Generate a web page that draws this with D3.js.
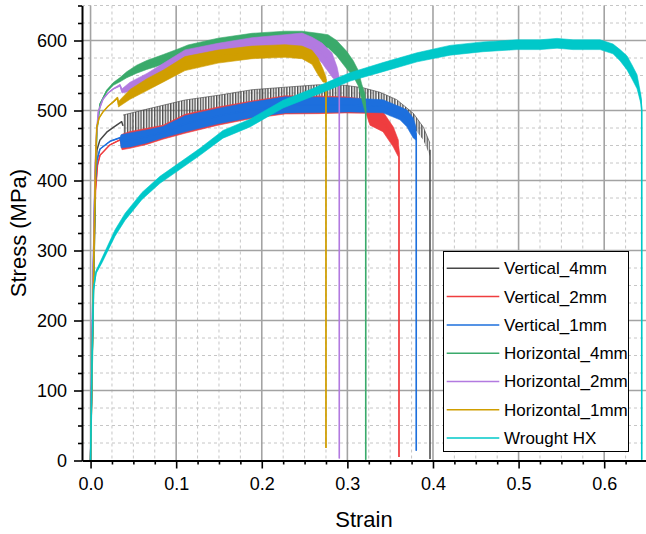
<!DOCTYPE html>
<html>
<head>
<meta charset="utf-8">
<script src="https://cdn.jsdelivr.net/npm/d3@7"></script>
<style>
  html, body { margin: 0; padding: 0; background: #fff; }
  svg { display: block; font-family: "Liberation Sans", Arial, Helvetica, sans-serif; }
</style>
</head>
<body>
<svg id="chart" width="646" height="534"></svg>
<script>
// Each point: [strain, stress (MPa), half-width of the serration band (MPa)]
const vertical4mm = [
  [0, 0, 0], [0.0029, 229, 0], [0.0052, 401, 0], [0.0075, 444, 0], [0.0110, 458, 0],
  [0.0189, 469, 0], [0.0266, 476, 0], [0.0364, 484, 0.5], [0.0379, 478, 15.5],
  [0.0659, 486, 16], [0.1103, 503, 12], [0.1489, 511, 10.7], [0.1886, 519, 10.7],
  [0.2272, 524, 9.3], [0.2657, 526, 10.7], [0.2973, 526, 10], [0.3183, 525, 7.5],
  [0.3381, 519, 7], [0.3576, 508, 7.5], [0.3770, 486, 10], [0.3887, 467, 9.3],
  [0.3965, 444, 9.3], [0.3965, 2, 0]
];
const vertical2mm = [
  [0, 0, 0], [0.0029, 229, 0], [0.0058, 386, 0], [0.0081, 422, 0], [0.0110, 436, 0],
  [0.0227, 451, 0], [0.0344, 458, 0.5], [0.0367, 455, 11], [0.0461, 458, 12],
  [0.0656, 463, 11.5], [0.0846, 469, 10], [0.1103, 481, 13.5], [0.1489, 492, 13],
  [0.1882, 501, 12.5], [0.2272, 508, 13], [0.2657, 508, 12.5], [0.2973, 508, 11.5],
  [0.3218, 506, 10], [0.3264, 489, 10], [0.3416, 484, 14.3], [0.3537, 462, 14.3],
  [0.3595, 446, 12], [0.3603, 439, 4], [0.3603, 5, 0]
];
const vertical1mm = [
  [0, 0, 0], [0.0029, 258, 0], [0.0052, 394, 0], [0.0075, 429, 0], [0.0110, 445, 0],
  [0.0227, 456, 0], [0.0344, 461, 0.5], [0.0356, 456, 9.3], [0.0461, 458, 10],
  [0.0656, 463, 9.3], [0.0846, 469, 8], [0.1103, 481, 11.5], [0.1489, 492, 11],
  [0.1882, 501, 11], [0.2272, 508, 11.5], [0.2657, 508, 11], [0.3031, 508, 10],
  [0.3416, 506, 9.3], [0.3615, 496, 9.3], [0.3693, 489, 12], [0.3770, 475, 14.3],
  [0.3802, 467, 9.3], [0.3805, 461, 2], [0.3805, 14, 0]
];
const horizontal4mm = [
  [0, 0, 0], [0.0029, 201, 0], [0.0046, 315, 0], [0.0058, 415, 0], [0.0075, 472, 0],
  [0.0110, 509, 0.7], [0.0189, 528, 1.4], [0.0266, 538, 2], [0.0344, 544, 3],
  [0.0422, 551, 4.3], [0.0539, 559, 5.7], [0.0656, 565, 6.4], [0.0850, 573, 7],
  [0.1045, 581, 8], [0.1138, 585, 8.6], [0.1489, 594, 9.3], [0.1886, 601, 9.3],
  [0.2272, 604, 9.3], [0.2470, 604, 9.3], [0.2657, 601, 9.3], [0.2774, 599, 9.3],
  [0.2875, 589, 11], [0.2992, 572, 12.5], [0.3069, 560, 11], [0.3128, 546, 11],
  [0.3167, 527, 11], [0.3206, 511, 12.5], [0.3214, 501, 4], [0.3214, 1, 0]
];
const horizontal2mm = [
  [0, 0, 0], [0.0029, 258, 0], [0.0052, 415, 0], [0.0069, 465, 0], [0.0090, 498, 0],
  [0.0145, 516, 0], [0.0204, 525, 0], [0.0266, 531, 0.5], [0.0344, 536, 1.4],
  [0.0367, 528, 3], [0.0461, 534, 6.4], [0.0659, 546, 7], [0.0846, 559, 8],
  [0.1103, 578, 8.6], [0.1489, 586, 10], [0.1886, 594, 10], [0.2272, 599, 9.3],
  [0.2470, 600, 10.7], [0.2587, 594, 10.7], [0.2704, 582, 14.3], [0.2821, 565, 17],
  [0.2879, 551, 11.4], [0.2906, 544, 3], [0.2906, 3, 0]
];
const horizontal1mm = [
  [0, 0, 0], [0.0029, 229, 0], [0.0046, 344, 0], [0.0060, 429, 0], [0.0072, 476, 0],
  [0.0099, 489, 0], [0.0145, 498, 0], [0.0204, 506, 0], [0.0262, 512, 0.5],
  [0.0315, 518, 1.4], [0.0326, 509, 4], [0.0461, 523, 7], [0.0659, 537, 8.5],
  [0.0846, 549, 8.5], [0.1103, 567, 10], [0.1489, 577, 9.3], [0.1886, 583, 9],
  [0.2272, 585, 9], [0.2470, 583, 9], [0.2587, 576, 10], [0.2657, 563, 12],
  [0.2715, 550, 9.3], [0.2750, 544, 4], [0.2750, 18, 0]
];
const wroughtHX = [
  [0, 0, 0], [0.0017, 144, 0], [0.0034, 244, 1], [0.0064, 269, 2], [0.0134, 286, 3.5],
  [0.0286, 325, 4.5], [0.0402, 348, 5], [0.0601, 378, 5], [0.0811, 401, 5],
  [0.1045, 421, 5], [0.1278, 441, 5], [0.1547, 466, 5.5], [0.1862, 482, 5.5],
  [0.2061, 496, 5.5], [0.2248, 509, 5.5], [0.2598, 526, 5.5], [0.2797, 536, 6],
  [0.3031, 548, 6], [0.3416, 562, 6.5], [0.3814, 576, 6.5], [0.4199, 586, 7],
  [0.4584, 591, 7], [0.4981, 594, 7], [0.5250, 594, 7], [0.5449, 596, 7],
  [0.5636, 594, 7], [0.5952, 594, 7], [0.6103, 588, 7], [0.6185, 579, 8],
  [0.6267, 568, 10], [0.6325, 555, 10], [0.6384, 541, 10], [0.6430, 515, 6],
  [0.6438, 501, 2], [0.6438, 1, 0]
];

const seriesNames = ["Vertical_4mm", "Vertical_2mm", "Vertical_1mm",
  "Horizontal_4mm", "Horizontal_2mm", "Horizontal_1mm", "Wrought HX"];
const seriesData = [vertical4mm, vertical2mm, vertical1mm,
  horizontal4mm, horizontal2mm, horizontal1mm, wroughtHX];
const seriesColors = ["#474747", "#ef3d3f", "#1d6fdd", "#3aaa6b", "#b27ae0", "#d09e00", "#00c8c9"];

const strainTicks = [0, 0.1, 0.2, 0.3, 0.4, 0.5, 0.6];
const stressTicks = [0, 100, 200, 300, 400, 500, 600];

const svg = d3.select("#chart");

const x = d3.scaleLinear().domain([-0.01, 0.65]).range([82, 647]);
const y = d3.scaleLinear().domain([0, 650]).range([460.5, 5.5]);

const strainMinor = d3.range(1, 27).filter(k => k % 4 !== 0).map(k => k * 0.025);
const stressMinor = d3.range(1, 27).filter(k => k % 4 !== 0).map(k => k * 25);

// sawtooth texture used for the serrated Vertical_4mm band
const defs = svg.append("defs");
defs.append("pattern")
  .attr("id", "saw")
  .attr("patternUnits", "userSpaceOnUse")
  .attr("width", 2.7).attr("height", 30)
  .append("line")
  .attr("x1", 0.7).attr("y1", 0).attr("x2", 0.7).attr("y2", 30)
  .attr("stroke", seriesColors[0]).attr("stroke-width", 1.35);

// grid
const grid = svg.append("g");
grid.selectAll(".vminor").data(strainMinor).join("line")
  .attr("x1", d => x(d)).attr("x2", d => x(d))
  .attr("y1", y(650)).attr("y2", y(0))
  .attr("stroke", "#c6c6c6").attr("stroke-width", 1).attr("stroke-dasharray", "3,3");
grid.selectAll(".hminor").data(stressMinor).join("line")
  .attr("x1", x.range()[0]).attr("x2", x.range()[1])
  .attr("y1", d => y(d)).attr("y2", d => y(d))
  .attr("stroke", "#c6c6c6").attr("stroke-width", 1).attr("stroke-dasharray", "3,3");
grid.selectAll(".vmajor").data(strainTicks).join("line")
  .attr("x1", d => x(d)).attr("x2", d => x(d))
  .attr("y1", y(650)).attr("y2", y(0))
  .attr("stroke", "#a3a3a3").attr("stroke-width", 1.6);
grid.selectAll(".hmajor").data(stressTicks.slice(1)).join("line")
  .attr("x1", x.range()[0]).attr("x2", x.range()[1])
  .attr("y1", d => y(d)).attr("y2", d => y(d))
  .attr("stroke", "#a3a3a3").attr("stroke-width", 1.6);

// curves: serration band plus the mean trace
const band = d3.area()
  .x(d => x(d[0]))
  .y0(d => y(d[1] - d[2]))
  .y1(d => y(d[1] + d[2]));
const upperEdge = d3.line().x(d => x(d[0])).y(d => y(d[1] + d[2]));
const trace = d3.line().x(d => x(d[0])).y(d => y(d[1]));

const curves = svg.append("g");
seriesData.forEach((pts, i) => {
  const g = curves.append("g");
  const sawtooth = i === 0;
  if (sawtooth) {
    const firstBand = pts.findIndex(d => d[2] >= 1.5);
    const serrated = pts.slice(firstBand, -1);
    g.append("path").attr("d", band(serrated)).attr("fill", "url(#saw)");
    g.append("path").attr("d", upperEdge(serrated))
      .attr("fill", "none").attr("stroke", seriesColors[i])
      .attr("stroke-width", 0.8).attr("stroke-opacity", 0.8);
    // thin trace only where the curve is not serrated: the loading part and the final drop
    [pts.slice(0, firstBand + 1), pts.slice(-2)].forEach(seg => {
      g.append("path").attr("d", trace(seg))
        .attr("fill", "none").attr("stroke", seriesColors[i])
        .attr("stroke-width", 1.5).attr("stroke-linejoin", "round");
    });
  } else {
    g.append("path").attr("d", band(pts))
      .attr("fill", seriesColors[i])
      .attr("stroke", seriesColors[i]).attr("stroke-width", 0.6);
    g.append("path").attr("d", trace(pts))
      .attr("fill", "none").attr("stroke", seriesColors[i])
      .attr("stroke-width", 1.5).attr("stroke-linejoin", "round");
  }
});

// axes
svg.append("g").attr("transform", `translate(0,${y(0)})`)
  .call(d3.axisBottom(x).tickValues(strainTicks).tickFormat(d3.format(".1f"))
    .tickSize(8).tickSizeOuter(0).tickPadding(9));
svg.append("g").attr("transform", `translate(0,${y(0)})`)
  .call(d3.axisBottom(x).tickValues(strainMinor).tickFormat("").tickSize(4).tickSizeOuter(0))
  .call(g => g.select(".domain").remove());
svg.append("g").attr("transform", `translate(${x.range()[0]},0)`)
  .call(d3.axisLeft(y).tickValues(stressTicks).tickFormat(d3.format("d"))
    .tickSize(8).tickSizeOuter(0).tickPadding(7));
svg.append("g").attr("transform", `translate(${x.range()[0]},0)`)
  .call(d3.axisLeft(y).tickValues(stressMinor).tickFormat("").tickSize(4).tickSizeOuter(0))
  .call(g => g.select(".domain").remove());

svg.selectAll(".domain").attr("stroke", "#000").attr("stroke-width", 2);
svg.selectAll(".tick line").attr("stroke", "#000").attr("stroke-width", 1.6);
svg.selectAll(".tick text").attr("font-size", 18).attr("fill", "#000")
  .attr("font-family", "'Liberation Sans', Arial, sans-serif");

// axis titles
svg.append("text").attr("x", 364).attr("y", 527)
  .attr("text-anchor", "middle").attr("font-size", 22).text("Strain");
svg.append("text").attr("transform", "translate(26,233) rotate(-90)")
  .attr("text-anchor", "middle").attr("font-size", 22).text("Stress (MPa)");

// legend
const legend = svg.append("g");
legend.append("rect").attr("x", 443.5).attr("y", 251.5).attr("width", 185).attr("height", 200)
  .attr("fill", "#fff").attr("stroke", "#000").attr("stroke-width", 1);
seriesNames.forEach((name, i) => {
  const ly = 268.3 + i * 28.3;
  legend.append("line").attr("x1", 446.7).attr("x2", 499.3).attr("y1", ly).attr("y2", ly)
    .attr("stroke", seriesColors[i]).attr("stroke-width", 1.5);
  legend.append("text").attr("x", 504).attr("y", ly).attr("dy", "0.35em")
    .attr("font-size", 17).attr("fill", "#000").text(name);
});
</script>
</body>
</html>
